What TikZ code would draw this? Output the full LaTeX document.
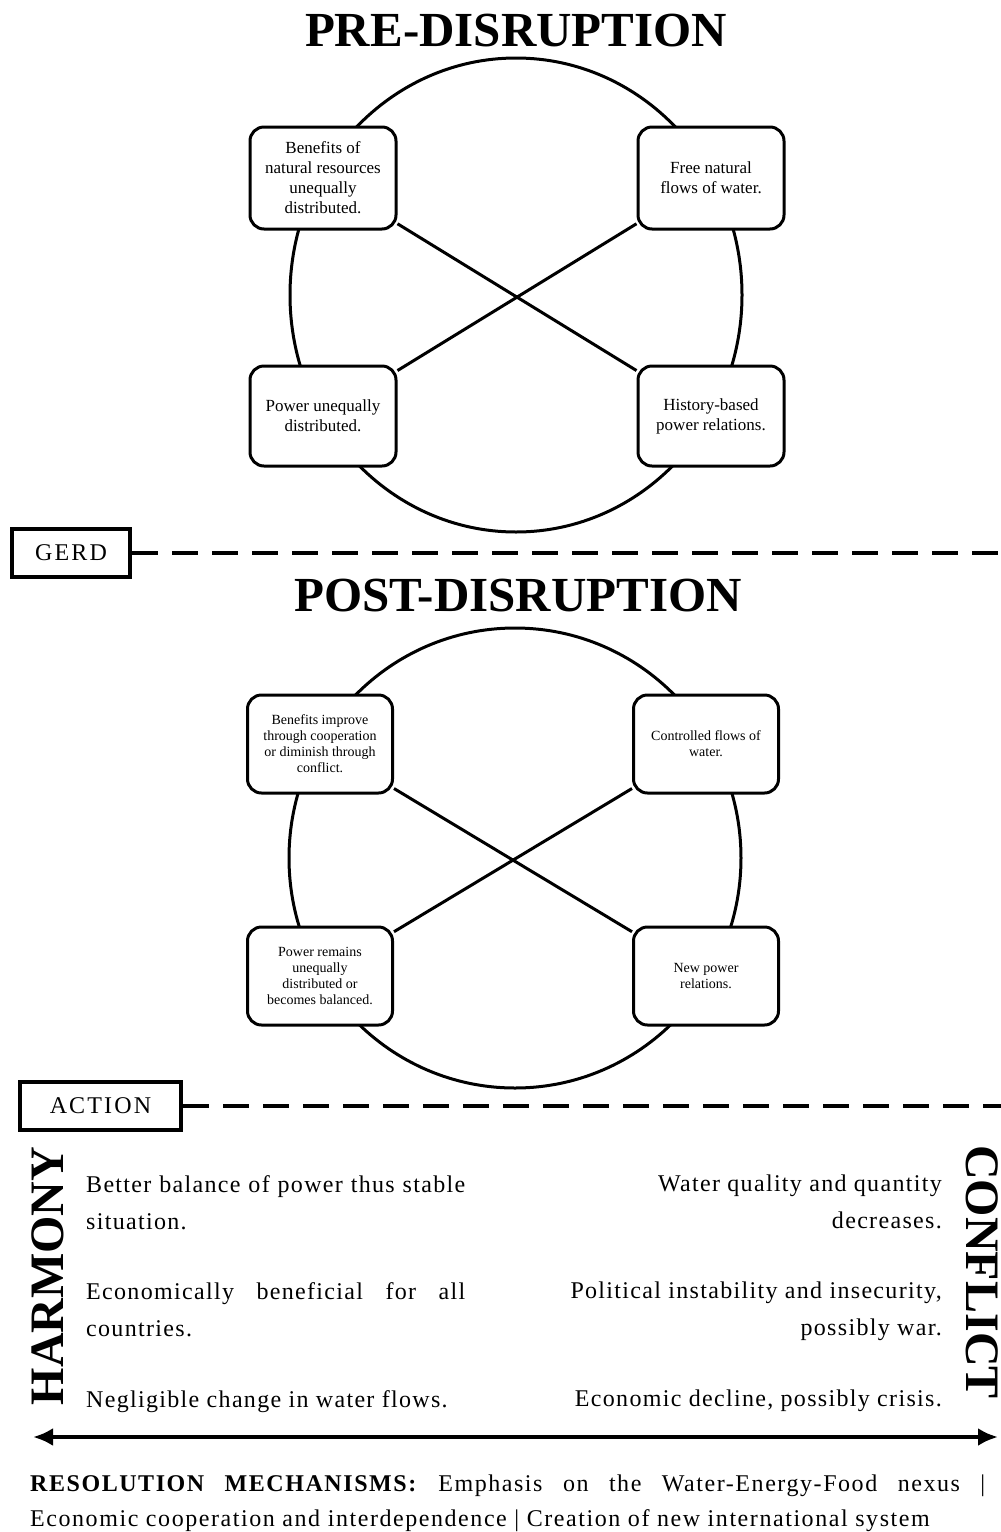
\documentclass[tikz,border=0pt]{standalone}
\usepackage{fontspec}
\setmainfont{Liberation Serif}
\usetikzlibrary{arrows.meta}

\tikzset{
  pbox/.style={draw, fill=white, line width=3pt, rounded corners=14pt, minimum width=146pt, minimum height=102pt, align=center, inner sep=0pt, font=\fontsize{17}{20}\selectfont},
  qbox/.style={pbox, minimum width=145pt, minimum height=98pt, font=\fontsize{14}{16}\selectfont},
  title/.style={font=\bfseries\fontsize{49}{49}\selectfont},
  tag/.style={draw, line width=4pt, minimum width=118pt, minimum height=48pt, inner sep=0pt, font=\fontsize{24}{24}\selectfont\addfontfeatures{LetterSpace=9}},
  divider/.style={line width=4pt, dash pattern=on 26pt off 14pt},
  body/.style={inner sep=0pt, font=\fontsize{24}{37}\selectfont\addfontfeatures{LetterSpace=5.5}},
  side/.style={inner sep=0pt, font=\bfseries\fontsize{48}{48}\selectfont},
}

\begin{document}
\begin{tikzpicture}[x=1pt,y=-1pt]

\useasboundingbox (0,0) rectangle (1001,1532);

% Pre-disruption
\node[title, anchor=base] (pretitle) at (516,46) {PRE-DISRUPTION};
\draw[line width=3pt] (516,295) ellipse [x radius=226, y radius=237];

\node[pbox] (pretl) at (323,178) {Benefits of\\natural resources\\unequally\\distributed.};
\node[pbox] (pretr) at (711,178) {Free natural\\flows of water.};
\node[pbox, minimum height=100pt] (prebl) at (323,416) {Power unequally\\distributed.};
\node[pbox, minimum height=100pt] (prebr) at (711,416) {History-based\\power relations.};

\draw[line width=3pt] (pretl) -- (prebr);
\draw[line width=3pt] (pretr) -- (prebl);

% GERD divider
\node[tag] (gerd) at (71,553) {GERD};
\coordinate (gerdend) at (1001,553);
\draw[divider] (gerd.east) -- (gerdend);

% Post-disruption
\node[title, anchor=base] (posttitle) at (518,611) {POST-DISRUPTION};
\draw[line width=3pt] (515,858) ellipse [x radius=226, y radius=230];

\node[qbox] (posttl) at (320,744) {Benefits improve\\through cooperation\\or diminish through\\conflict.};
\node[qbox] (posttr) at (706,744) {Controlled flows of\\water.};
\node[qbox] (postbl) at (320,976) {Power remains\\unequally\\distributed or\\becomes balanced.};
\node[qbox] (postbr) at (706,976) {New power\\relations.};

\draw[line width=3pt] (posttl) -- (postbr);
\draw[line width=3pt] (posttr) -- (postbl);

% ACTION divider
\node[tag, minimum width=161pt] (action) at (100.5,1106) {ACTION};
\coordinate (actionend) at (1001,1106);
\draw[divider] (action.east) -- (actionend);

% Harmony side
\node[side, rotate=90] (harmony) at (48,1276) {HARMONY};
\node[body, anchor=north west, align=left] (harm1) at (86,1175) {\makebox[379pt][s]{Better balance of power thus stable}\\situation.};
\node[body, anchor=north west, align=left] (harm2) at (86,1282) {\makebox[379pt][s]{Economically beneficial for all}\\countries.};
\node[body, anchor=north west, align=left] (harm3) at (86,1390) {Negligible change in water flows.};

% Conflict side
\node[side, rotate=-90] (conflict) at (982,1272) {CONFLICT};
\node[body, anchor=north east, align=right] (conf1) at (942,1175) {Water quality and quantity\\decreases.};
\node[body, anchor=north east, align=right] (conf2) at (942,1282) {Political instability and insecurity,\\possibly war.};
\node[body, anchor=north east, align=right] (conf3) at (942,1390) {Economic decline, possibly crisis.};

% Scale arrow
\coordinate (axl) at (33,1437);
\coordinate (axr) at (998,1437);
\draw[line width=4pt, {Latex[length=20pt,width=18pt]}-{Latex[length=20pt,width=18pt]}] (axl) -- (axr);

% Resolution mechanisms
\node[inner sep=0pt, anchor=north west, align=left, font=\fontsize{24}{35}\selectfont\addfontfeatures{LetterSpace=6.5}] (resol) at (30,1475) {\makebox[955pt][s]{\textbf{RESOLUTION MECHANISMS:} Emphasis on the Water-Energy-Food nexus \textbar}\\Economic cooperation and interdependence \textbar{} Creation of new international system};

\end{tikzpicture}
\end{document}
